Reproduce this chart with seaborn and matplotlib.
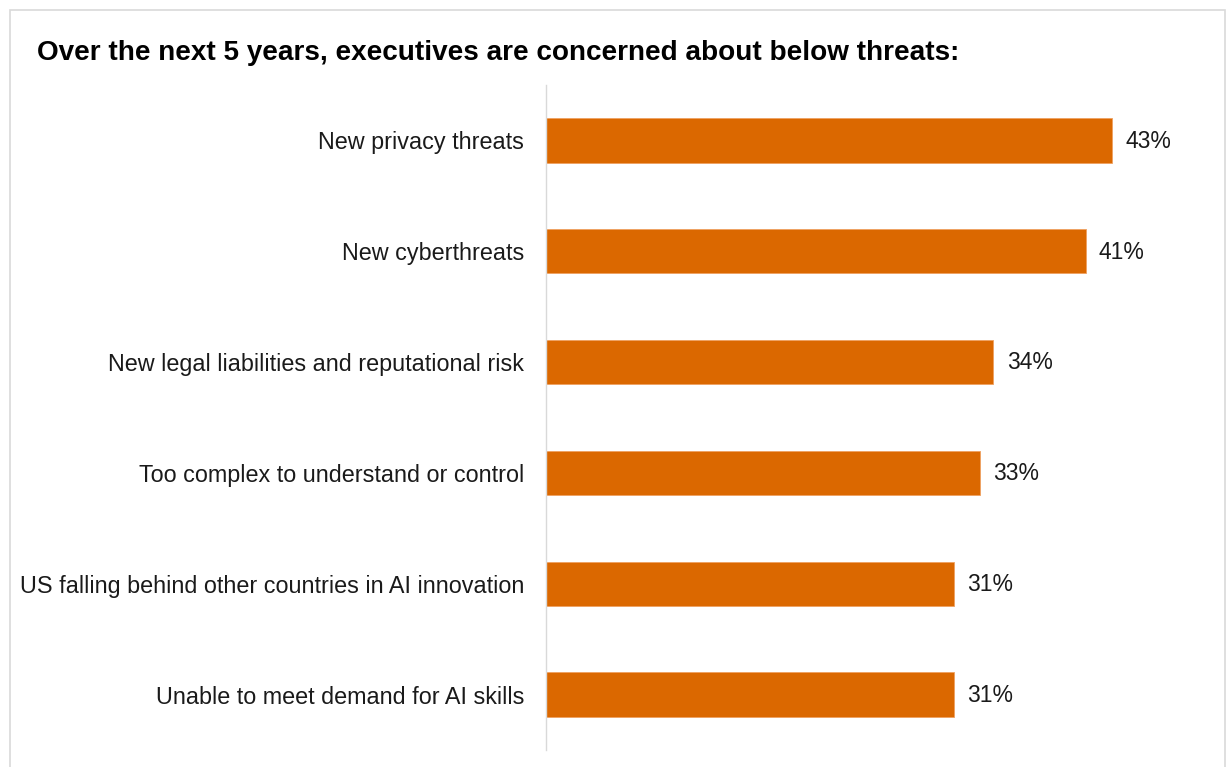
import matplotlib
matplotlib.use("Agg")
import matplotlib.pyplot as plt
import seaborn as sns
import pandas as pd
from matplotlib.patches import Rectangle

categories = [
    "New privacy threats",
    "New cyberthreats",
    "New legal liabilities and reputational risk",
    "Too complex to understand or control",
    "US falling behind other countries in AI innovation",
    "Unable to meet demand for AI skills",
]
values = [43, 41, 34, 33, 31, 31]
title = "Over the next 5 years, executives are concerned about below threats:"

sns.set_theme(style="white")
plt.rcParams['font.family'] = ['Liberation Sans', 'DejaVu Sans']

df = pd.DataFrame({"category": categories, "value": values})

fig = plt.figure(figsize=(12.3, 7.67), dpi=100)
ax = fig.add_axes([546/1230, 1-750/767, (1204-546)/1230, (750-85)/767])

sns.barplot(data=df, y="category", x="value", orient="h", color="#DB6800",
            width=0.4, saturation=1, ax=ax, edgecolor="#EFA060", linewidth=0.6)

ax.set_xlim(0, 50)
ax.set_ylim(5.5, -0.5)
ax.set_xlabel("")
ax.set_ylabel("")
ax.set_xticks([])
for s in ["top", "right", "bottom"]:
    ax.spines[s].set_visible(False)
ax.spines["left"].set_color("#D9D9D9")
ax.spines["left"].set_linewidth(1.0)
ax.tick_params(axis="y", length=0, pad=15.8, labelsize=16.8, labelcolor="#1a1a1a")
for lbl in ax.get_yticklabels():
    lbl.set_va("center_baseline")

for i, v in enumerate(values):
    ax.text(v + 1.0, i - 0.015, f"{v}%", va="center_baseline", ha="left", fontsize=16.5, color="#1a1a1a")

fig.text(37/1230, 1-53/767, title, fontsize=20.1, fontweight="bold", ha="left", va="center", color="black")

fig.patches.append(Rectangle((10/1230, -0.01), (1225-10)/1230, 1-10/767 + 0.01,
                             transform=fig.transFigure, fill=False, edgecolor="#D9D9D9", linewidth=1.2))

fig.savefig("out.png", dpi=100)
